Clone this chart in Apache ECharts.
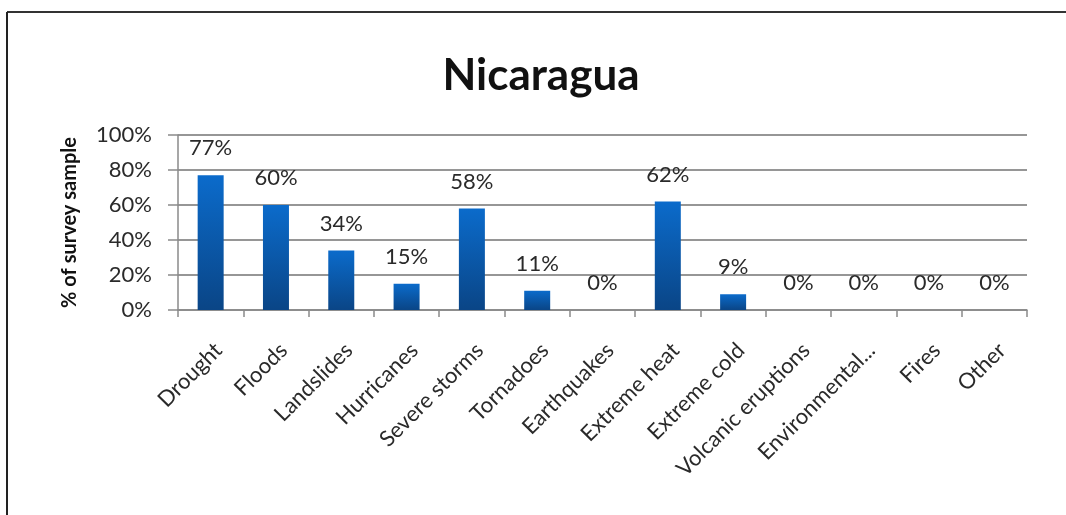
<!DOCTYPE html>
<html>
<head>
<meta charset="utf-8">
<script src="https://cdn.jsdelivr.net/npm/echarts@6/dist/echarts.min.js"></script>
<style>
html,body{margin:0;padding:0;background:#fff;}
#chart{width:1066px;height:515px;}
</style>
</head>
<body>
<div id="chart"></div>
<script>
const chartTitle = 'Nicaragua';
const yAxisTitle = '% of survey sample';
const categories = ['Drought','Floods','Landslides','Hurricanes','Severe storms','Tornadoes','Earthquakes','Extreme heat','Extreme cold','Volcanic eruptions','Environmental...','Fires','Other'];
const values = [77, 60, 34, 15, 58, 11, 0, 62, 9, 0, 0, 0, 0];
const yTicks = [0, 20, 40, 60, 80, 100];

const FONT = 'Lato, "Open Sans", sans-serif';
const chart = echarts.init(document.getElementById('chart'), null, {renderer:'canvas'});
chart.setOption({
  backgroundColor: '#fff',
  animation: false,
  title: {
    text: chartTitle,
    left: 536, top: 49, textAlign: 'center',
    textStyle: {fontFamily: FONT, fontWeight: 'bold', fontSize: 44, color: '#111'}
  },
  graphic: [
    {type:'line', shape:{x1:7, y1:12, x2:1066, y2:12}, style:{stroke:'#333', lineWidth:2}},
    {type:'line', shape:{x1:7, y1:12, x2:7, y2:515}, style:{stroke:'#222', lineWidth:2}}
  ],
  grid: {left: 178, right: 39, top: 135, bottom: 205, containLabel: false},
  xAxis: {
    type: 'category',
    data: categories,
    axisLine: {lineStyle: {color: '#8a8a8a', width: 1.5}},
    axisTick: {show: true, length: 7, alignWithLabel: false, lineStyle: {color: '#8a8a8a', width: 1.5}},
    axisLabel: {
      interval: 0, rotate: 45, margin: 29, verticalAlign: 'top',
      fontFamily: FONT, fontSize: 22, color: '#2a2a2a'
    }
  },
  yAxis: {
    type: 'value',
    min: 0, max: 100, interval: 20,
    name: yAxisTitle,
    nameLocation: 'middle',
    nameGap: 98,
    nameRotate: 90,
    nameTextStyle: {fontFamily: FONT, fontWeight: 'bold', fontSize: 20, color: '#111'},
    axisLine: {show: true, lineStyle: {color: '#8a8a8a', width: 1.5}},
    axisTick: {show: true, length: 10, inside: false, lineStyle: {color: '#8a8a8a', width: 1.5}},
    axisLabel: {
      margin: 26, fontFamily: FONT, fontSize: 22, color: '#2a2a2a',
      formatter: v => yTicks.includes(v) ? v + '%' : ''
    },
    splitLine: {show: true, lineStyle: {color: '#969696', width: 2}}
  },
  series: [{
    type: 'bar',
    data: values,
    barWidth: 26,
    itemStyle: {
      color: new echarts.graphic.LinearGradient(0, 0, 0, 1, [
        {offset: 0, color: '#0b6bcb'},
        {offset: 1, color: '#0a4586'}
      ])
    },
    label: {
      show: true, position: 'top', distance: 16,
      fontFamily: FONT, fontSize: 22, color: '#2a2a2a',
      formatter: p => p.value + '%'
    }
  }]
});
</script>
</body>
</html>
